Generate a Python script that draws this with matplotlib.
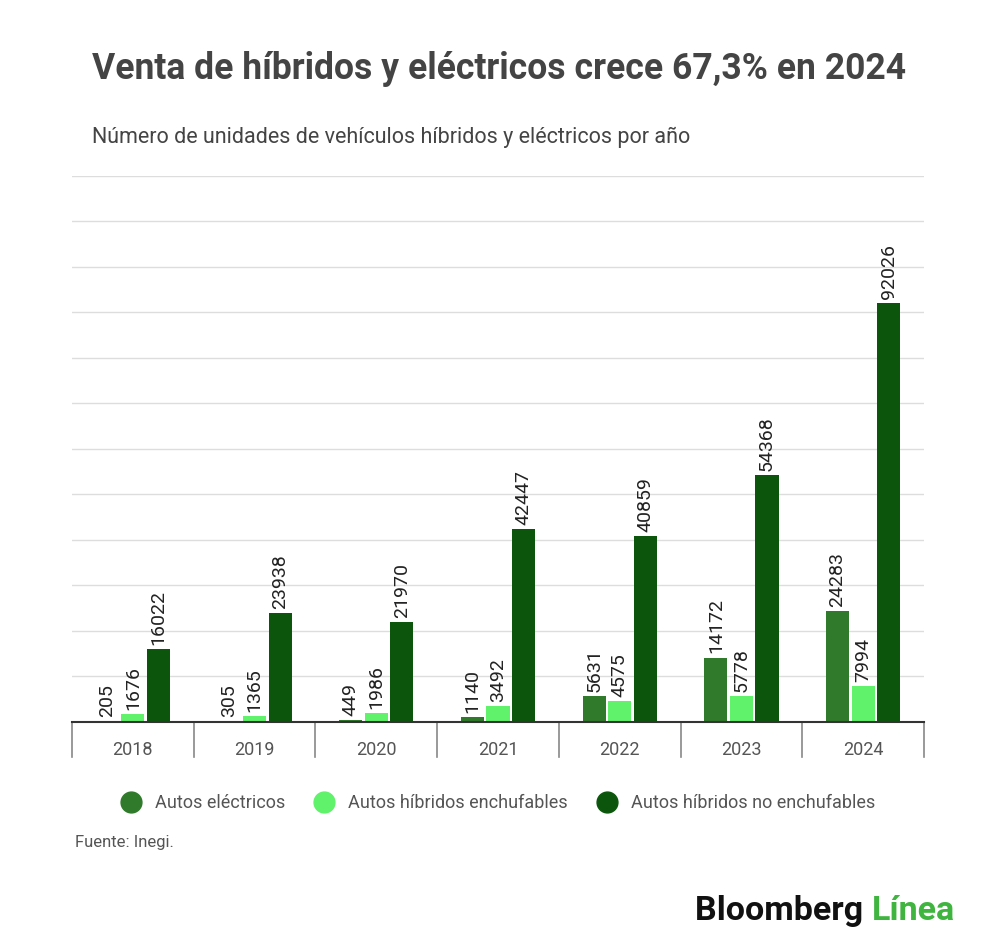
import matplotlib
matplotlib.use('Agg')
import numpy as np
from matplotlib import pyplot as plt
from matplotlib.lines import Line2D

plt.rcParams['font.family'] = ['Roboto', 'DejaVu Sans']

years = ['2018', '2019', '2020', '2021', '2022', '2023', '2024']
electricos = [205, 305, 449, 1140, 5631, 14172, 24283]
enchufables = [1676, 1365, 1986, 3492, 4575, 5778, 7994]
no_enchufables = [16022, 23938, 21970, 42447, 40859, 54368, 92026]

series = [electricos, enchufables, no_enchufables]
names = ['Autos eléctricos', 'Autos híbridos enchufables', 'Autos híbridos no enchufables']
colors = ['#2f7a2b', '#5ff26a', '#0b560c']

fig = plt.figure(figsize=(10, 9.51), dpi=100)
ax = fig.add_axes([0.072, 0.2408, 0.852, 0.5742])

x = np.arange(len(years))
w = 0.19
step = 0.21
for i, (vals, c) in enumerate(zip(series, colors)):
    pos = x + (i - 1) * step
    bars = ax.bar(pos, vals, width=w, color=c, zorder=3)
    for b, v in zip(bars, vals):
        ax.text(b.get_x() + b.get_width() / 2, v + 900, str(v), rotation=90,
                ha='center', va='bottom', fontsize=14, color='#222222')

ax.set_xlim(-0.5, len(years) - 0.5)
ax.set_ylim(0, 120000)
ax.set_yticks(np.arange(0, 120001, 10000))
ax.yaxis.grid(True, color='#dddddd', linewidth=1)
ax.set_axisbelow(True)
ax.tick_params(axis='y', left=False, labelleft=False)
ax.tick_params(axis='x', bottom=False, pad=10, labelsize=13, labelcolor='#555555')
ax.set_xticks(x)
ax.set_xticklabels(years)
for s in ['top', 'right', 'left']:
    ax.spines[s].set_visible(False)
ax.spines['bottom'].set_color('#333333')
ax.spines['bottom'].set_linewidth(1.5)
ax.spines['bottom'].set_zorder(4)

# separadores de categoria bajo el eje
trans = ax.get_xaxis_transform()
for sep in np.arange(-0.5, len(years), 1.0):
    ax.plot([sep, sep], [0, -0.064], transform=trans, color='#888888',
            linewidth=1.2, clip_on=False)

fig.text(0.092, 0.927, 'Venta de híbridos y eléctricos crece 67,3% en 2024',
         fontsize=25.6, fontweight='bold', color='#444444', va='center')
fig.text(0.092, 0.856, 'Número de unidades de vehículos híbridos y eléctricos por año',
         fontsize=15.5, color='#444444', va='center')

handles = [Line2D([0], [0], marker='o', linestyle='', markersize=15,
                  markerfacecolor=c, markeredgecolor=c) for c in colors]
fig.legend(handles, names, loc='center', bbox_to_anchor=(0.494, 0.1556), ncol=3,
           frameon=False, fontsize=13, labelcolor='#555555', handletextpad=0.3,
           columnspacing=1.2)

fig.text(0.075, 0.1136, 'Fuente: Inegi.', fontsize=12, color='#555555', va='center')

t = fig.text(0.695, 0.042, 'Bloomberg ', fontsize=24.5, fontweight='bold',
             color='#111111', va='center')
fig.canvas.draw()
bb = t.get_window_extent()
fig.text(bb.x1 / fig.bbox.width, 0.042, 'Línea', fontsize=24.5, fontweight='bold',
         color='#3fb53f', va='center')

fig.savefig('out.png', dpi=100, facecolor='white')
